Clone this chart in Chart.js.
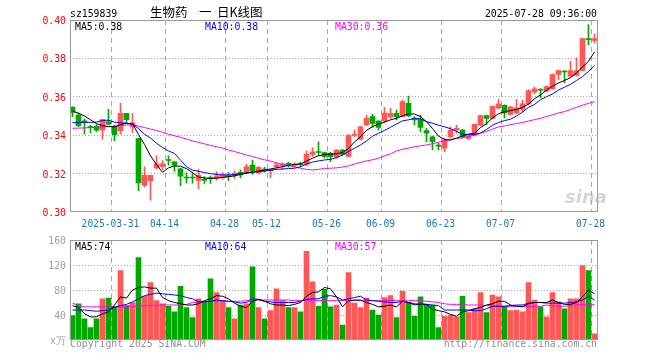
<!DOCTYPE html>
<html><head><meta charset="utf-8">
<script src="https://cdn.jsdelivr.net/npm/chart.js@4.4.1/dist/chart.umd.min.js"></script>
<style>
html,body{margin:0;padding:0;background:#fff;}
#wrap{position:relative;width:660px;height:360px;overflow:hidden;background:#fff;}
canvas{position:absolute;left:0;}
.t{position:absolute;font-family:'DejaVu Sans Mono',monospace;font-size:9.8px;line-height:9.8px;white-space:pre;}
.cjk{position:absolute;font-family:'Noto Sans CJK SC',sans-serif;font-size:12.5px;line-height:12.5px;white-space:pre;color:#000;}
</style></head><body>
<div id="wrap">
<canvas id="pc" width="660" height="230" style="top:0"></canvas>
<canvas id="vc" width="660" height="130" style="top:230px"></canvas>
<div class="t" style="left:70px;top:8.5px;color:#000">sz159839</div>
<div class="cjk" style="left:150px;top:5.5px">生物药</div>
<div class="cjk" style="left:199px;top:5.5px">一</div>
<div class="cjk" style="left:217px;top:5.5px">日K线图</div>
<div class="t" style="right:63px;top:8.5px;color:#000">2025-07-28 09:36:00</div>
<div class="t" style="left:75px;top:21.5px;color:#000">MA5:0.38</div>
<div class="t" style="left:205px;top:21.5px;color:#0000ff">MA10:0.38</div>
<div class="t" style="left:335px;top:21.5px;color:#ff00ff">MA30:0.36</div>
<div class="t" style="left:75px;top:242px;color:#000">MA5:74</div>
<div class="t" style="left:205px;top:242px;color:#0000ff">MA10:64</div>
<div class="t" style="left:335px;top:242px;color:#ff00ff">MA30:57</div>
<div class="t" style="left:70px;top:339px;color:#909090">Copyright 2025 SINA.COM</div>
<div class="t" style="right:63px;top:339px;color:#909090">http://finance.sina.com.cn</div>
<div style="position:absolute;left:565px;top:186px;font-family:'DejaVu Sans',sans-serif;font-style:italic;font-weight:bold;font-size:18px;color:rgba(190,175,175,0.55)">sina</div>
</div>
<script>
const dates = ['2025-03-20','2025-03-21','2025-03-24','2025-03-25','2025-03-26','2025-03-27','2025-03-28','2025-03-31',
'2025-04-01','2025-04-02','2025-04-03','2025-04-07','2025-04-08','2025-04-09','2025-04-10','2025-04-11','2025-04-14','2025-04-15','2025-04-16','2025-04-17','2025-04-18','2025-04-21','2025-04-22','2025-04-23','2025-04-24','2025-04-25','2025-04-28','2025-04-29','2025-04-30',
'2025-05-06','2025-05-07','2025-05-08','2025-05-09','2025-05-12','2025-05-13','2025-05-14','2025-05-15','2025-05-16','2025-05-19','2025-05-20','2025-05-21','2025-05-22','2025-05-23','2025-05-26','2025-05-27','2025-05-28','2025-05-29','2025-05-30',
'2025-06-03','2025-06-04','2025-06-05','2025-06-06','2025-06-09','2025-06-10','2025-06-11','2025-06-12','2025-06-13','2025-06-16','2025-06-17','2025-06-18','2025-06-19','2025-06-20','2025-06-23','2025-06-24','2025-06-25','2025-06-26','2025-06-27','2025-06-30',
'2025-07-01','2025-07-02','2025-07-03','2025-07-04','2025-07-07','2025-07-08','2025-07-09','2025-07-10','2025-07-11','2025-07-14','2025-07-15','2025-07-16','2025-07-17','2025-07-18','2025-07-21','2025-07-22','2025-07-23','2025-07-24','2025-07-25','2025-07-28'];

const tickDates = ['2025-03-31','2025-04-14','2025-04-28','2025-05-12','2025-05-26','2025-06-09','2025-06-23','2025-07-07','2025-07-28'];

const open = [.3546,.3505,.3475,.3445,.3446,.3426,.3470,.3445,.3423,.3514,
.3443,.3382,.3139,.3163,.3230,.3237,.3270,.3261,.3225,.3179,
.3179,.3165,.3167,.3176,.3176,.3180,.3185,.3188,.3207,.3202,
.3245,.3205,.3223,.3215,.3236,.3241,.3250,.3241,.3249,.3248,
.3300,.3312,.3310,.3305,.3285,.3323,.3290,.3399,.3379,.3453,
.3497,.3474,.3475,.3497,.3514,.3497,.3566,.3488,.3483,.3424,
.3392,.3345,.3332,.3392,.3427,.3427,.3383,.3400,.3452,.3502,
.3487,.3542,.3555,.3508,.3516,.3534,.3563,.3625,.3636,.3629,
.3641,.3716,.3731,.3707,.3712,.3737,.3900,.3893];
const high = [.3548,.3514,.3484,.3452,.3455,.3484,.3535,.3452,.3567,.3514,
.3512,.3385,.3235,.3191,.3293,.3268,.3293,.3263,.3228,.3204,
.3204,.3221,.3184,.3189,.3210,.3205,.3205,.3215,.3219,.3248,
.3271,.3236,.3233,.3224,.3257,.3258,.3260,.3257,.3260,.3319,
.3335,.3365,.3312,.3311,.3325,.3326,.3402,.3427,.3446,.3505,
.3509,.3476,.3545,.3540,.3531,.3583,.3604,.3497,.3505,.3436,
.3395,.3358,.3384,.3444,.3453,.3431,.3398,.3458,.3505,.3505,
.3553,.3586,.3558,.3550,.3586,.3581,.3638,.3650,.3643,.3655,
.3719,.3738,.3737,.3785,.3803,.3905,.3976,.3927];
const low = [.3496,.3444,.3405,.3412,.3419,.3379,.3454,.3372,.3405,.3467,
.3415,.3111,.3130,.3061,.3225,.3221,.3244,.3212,.3137,.3151,
.3150,.3121,.3149,.3149,.3166,.3171,.3163,.3175,.3178,.3198,
.3196,.3198,.3208,.3179,.3227,.3222,.3233,.3236,.3236,.3241,
.3290,.3295,.3282,.3262,.3280,.3296,.3288,.3392,.3375,.3450,
.3441,.3427,.3465,.3488,.3479,.3495,.3497,.3453,.3418,.3366,
.3323,.3323,.3314,.3384,.3410,.3384,.3378,.3395,.3450,.3456,
.3485,.3537,.3490,.3505,.3512,.3521,.3560,.3615,.3594,.3627,
.3638,.3690,.3673,.3703,.3708,.3735,.3872,.3881];
const close = [.3519,.3449,.3467,.3440,.3426,.3481,.3458,.3403,.3514,.3481,
.3465,.3151,.3191,.3191,.3251,.3251,.3268,.3244,.3186,.3177,
.3177,.3191,.3165,.3174,.3188,.3192,.3184,.3202,.3193,.3236,
.3213,.3233,.3216,.3222,.3246,.3248,.3248,.3250,.3247,.3302,
.3312,.3310,.3290,.3288,.3323,.3300,.3400,.3404,.3444,.3488,
.3462,.3441,.3515,.3514,.3497,.3575,.3500,.3479,.3441,.3410,
.3366,.3343,.3375,.3427,.3436,.3392,.3395,.3456,.3502,.3487,
.3551,.3563,.3516,.3546,.3542,.3563,.3632,.3641,.3634,.3653,
.3716,.3737,.3729,.3737,.3737,.3903,.3898,.3903];

const ma5 = [.3525,.3515,.3500,.3480,.3460,.3450,.3445,.3443,.3455,.3462,
.3460,.3403,.3352,.3292,.3247,.3207,.3230,.3240,.3238,.3226,
.3205,.3182,.3177,.3175,.3176,.3180,.3184,.3188,.3196,.3203,
.3208,.3213,.3218,.3224,.3230,.3236,.3243,.3248,.3250,.3265,
.3280,.3293,.3299,.3302,.3303,.3310,.3330,.3365,.3392,.3425,
.3445,.3458,.3468,.3480,.3488,.3500,.3512,.3510,.3497,.3470,
.3435,.3395,.3378,.3375,.3385,.3396,.3406,.3410,.3440,.3460,
.3490,.3512,.3522,.3528,.3534,.3545,.3562,.3590,.3610,.3635,
.3655,.3672,.3685,.3700,.3725,.3755,.3785,.3834];
const ma10 = [.3465,.3466,.3467,.3467,.3468,.3477,.3478,.3468,.3465,.3463,
.3457,.3435,.3405,.3385,.3358,.3336,.3318,.3305,.3270,.3236,
.3218,.3212,.3205,.3200,.3196,.3193,.3193,.3195,.3200,.3204,
.3207,.3210,.3213,.3217,.3222,.3224,.3226,.3228,.3235,.3250,
.3260,.3266,.3271,.3274,.3283,.3297,.3315,.3332,.3349,.3370,
.3395,.3410,.3425,.3441,.3458,.3475,.3480,.3488,.3485,.3471,
.3462,.3452,.3444,.3434,.3420,.3405,.3402,.3404,.3411,.3430,
.3452,.3466,.3476,.3483,.3500,.3520,.3545,.3560,.3585,.3600,
.3615,.3635,.3650,.3665,.3685,.3705,.3732,.3762];
const ma30 = [.3436,.3437,.3438,.3440,.3441,.3443,.3445,.3447,.3450,.3453,
.3455,.3447,.3440,.3432,.3424,.3415,.3405,.3397,.3389,.3380,
.3370,.3363,.3355,.3347,.3340,.3333,.3323,.3315,.3306,.3297,
.3289,.3280,.3272,.3265,.3256,.3248,.3242,.3235,.3228,.3222,
.3219,.3222,.3227,.3228,.3230,.3234,.3240,.3250,.3258,.3266,
.3272,.3280,.3292,.3303,.3318,.3327,.3333,.3340,.3345,.3349,
.3356,.3363,.3370,.3376,.3383,.3386,.3393,.3401,.3410,.3420,
.3432,.3443,.3448,.3455,.3461,.3466,.3474,.3481,.3488,.3497,
.3506,.3516,.3523,.3534,.3545,.3556,.3566,.3574];

const volume = [39,58,34,20,34,66,67,54,111,55,
60,132,70,92,63,58,54,45,86,52,
36,66,61,98,76,63,52,34,56,58,
117,52,34,47,82,63,52,52,45,142,
93,54,81,53,56,24,108,59,52,67,
48,40,68,71,36,78,60,38,69,56,
56,20,38,40,37,70,44,50,76,44,
72,69,54,47,48,45,92,64,53,37,
76,61,50,66,66,119,111,10];
const volMa5 = [55,52,42,37,37,42,45,56,69,67,
80,84,85,83,83,68,63,60,58,56,
56,58,63,66,71,70,66,59,54,52,
62,65,62,58,56,56,55,57,60,70,
76,77,84,82,69,53,63,64,64,60,
57,53,54,56,53,62,60,56,58,57,
49,47,45,41,38,45,47,50,52,56,
58,62,62,56,54,53,58,60,60,60,
64,60,57,57,60,69,80,74];
const volMa10 = [48,48,48,47,46,47,48,52,55,57,
61,66,71,73,75,74,73,72,71,68,
66,61,61,62,64,63,62,61,59,60,
66,65,62,61,60,60,60,60,62,65,
66,66,70,71,69,64,66,68,70,64,
63,62,61,60,60,62,60,58,57,57,
56,55,48,48,48,48,48,47,47,50,
54,54,54,55,56,56,59,60,60,59,
59,59,59,60,61,64,70,64];
const volMa30 = [59,55,53,53,53,53,53,53,53,54,
54,54,55,55,56,56,56,56,56,57,
60,61,62,62,63,62,62,62,62,63,
64,64,64,64,64,64,64,63,63,63,
63,63,63,63,63,63,63,63,63,63,
63,63,63,63,63,63,63,63,63,62,
61,60,58,57,57,57,56,56,56,55,
55,54,54,54,54,54,54,54,54,56,
55,54,54,55,56,57,57,57];

const RED = '#ff5656', GREEN = '#00a800';
const candleColors = close.map((c, i) => c >= open[i] ? RED : GREEN);
const tickIdx = tickDates.map(d => dates.indexOf(d));
const MONO = "'DejaVu Sans Mono', monospace";

const framePlugin = {
  id: 'frame',
  afterDraw(chart) {
    const {ctx, chartArea: a} = chart;
    const l = Math.round(a.left), r = Math.floor(a.right), t = Math.round(a.top), b = Math.floor(a.bottom);
    ctx.save();
    ctx.strokeStyle = '#999999';
    ctx.lineWidth = 1;
    ctx.strokeRect(l + 0.5, t + 0.5, r - l, b - 1 - t);
    ctx.restore();
  }
};

function xScale(showTicks) {
  return {
    type: 'category', offset: true,
    grid: { offset: true, drawTicks: false, lineWidth: 1,
      color: c => tickIdx.includes(c.index) ? '#a8a8a8' : 'rgba(0,0,0,0)' },
    border: { display: false, dash: [5, 4] },
    ticks: { display: showTicks, autoSkip: false, maxRotation: 0, minRotation: 0, padding: 6.5, labelOffset: -4,
      color: '#1878c8', font: { family: MONO, size: 9.6 },
      callback: (v, i) => { const k = tickIdx.indexOf(i); return k < 0 ? '' : (k === 0 ? dates[i] : dates[i].slice(5)); } },
    afterFit: s => { s.height = showTicks ? 18 : 0; }
  };
}

const lineDs = (label, data, color, order) => ({ type: 'line', label, data, borderColor: color, borderWidth: 1, pointRadius: 0, tension: 0, order });

new Chart(document.getElementById('pc'), {
  data: {
    labels: dates,
    datasets: [
      lineDs('MA5', ma5, '#000000', 0),
      lineDs('MA10', ma10, '#0000ff', 1),
      lineDs('MA30', ma30, '#ff00ff', 2),
      { type: 'bar', label: 'body', data: open.map((o, i) => [o, close[i]]), backgroundColor: candleColors,
        barThickness: 5, minBarLength: 1, grouped: false, order: 3 },
      { type: 'bar', label: 'wick', data: low.map((l, i) => [l, high[i]]), backgroundColor: candleColors,
        barThickness: 1, grouped: false, order: 4 }
    ]
  },
  options: {
    responsive: false, animation: false, events: [],
    layout: { padding: { left: 0, right: 62.5, top: 20, bottom: 0 } },
    plugins: { legend: { display: false }, tooltip: { enabled: false } },
    scales: {
      x: xScale(true),
      y: { min: 0.30, max: 0.40,
        ticks: { stepSize: 0.02, padding: 3.5, labelOffset: 1.5, color: '#ff0000', font: { family: MONO, size: 9.8 }, callback: v => Number(v).toFixed(2) },
        grid: { drawTicks: false, color: c => (c.tick && c.tick.value > 0.305 && c.tick.value < 0.395) ? '#a8a8a8' : 'rgba(0,0,0,0)' },
        border: { display: false, dash: [1, 2] },
        afterFit: s => { s.width = 69.5; } }
    }
  },
  plugins: [framePlugin]
});

new Chart(document.getElementById('vc'), {
  data: {
    labels: dates,
    datasets: [
      lineDs('MA5', volMa5, '#000000', 0),
      lineDs('MA10', volMa10, '#0000ff', 1),
      lineDs('MA30', volMa30, '#ff00ff', 2),
      { type: 'bar', label: 'volume', data: volume, backgroundColor: candleColors, barThickness: 5, grouped: false, order: 3 }
    ]
  },
  options: {
    responsive: false, animation: false, events: [],
    layout: { padding: { left: 0, right: 62.5, top: 10, bottom: 20 } },
    plugins: { legend: { display: false }, tooltip: { enabled: false } },
    scales: {
      x: xScale(false),
      y: { min: 0, max: 160,
        ticks: { stepSize: 40, padding: 3.5, labelOffset: 1, color: '#a0a0a0', font: { family: MONO, size: 9.8 }, callback: v => v === 0 ? 'x万' : String(v) },
        grid: { drawTicks: false, color: c => (c.tick && c.tick.value > 0 && c.tick.value < 160) ? '#a8a8a8' : 'rgba(0,0,0,0)' },
        border: { display: false, dash: [1, 2] },
        afterFit: s => { s.width = 69.5; } }
    }
  },
  plugins: [framePlugin]
});
</script>
</body></html>
